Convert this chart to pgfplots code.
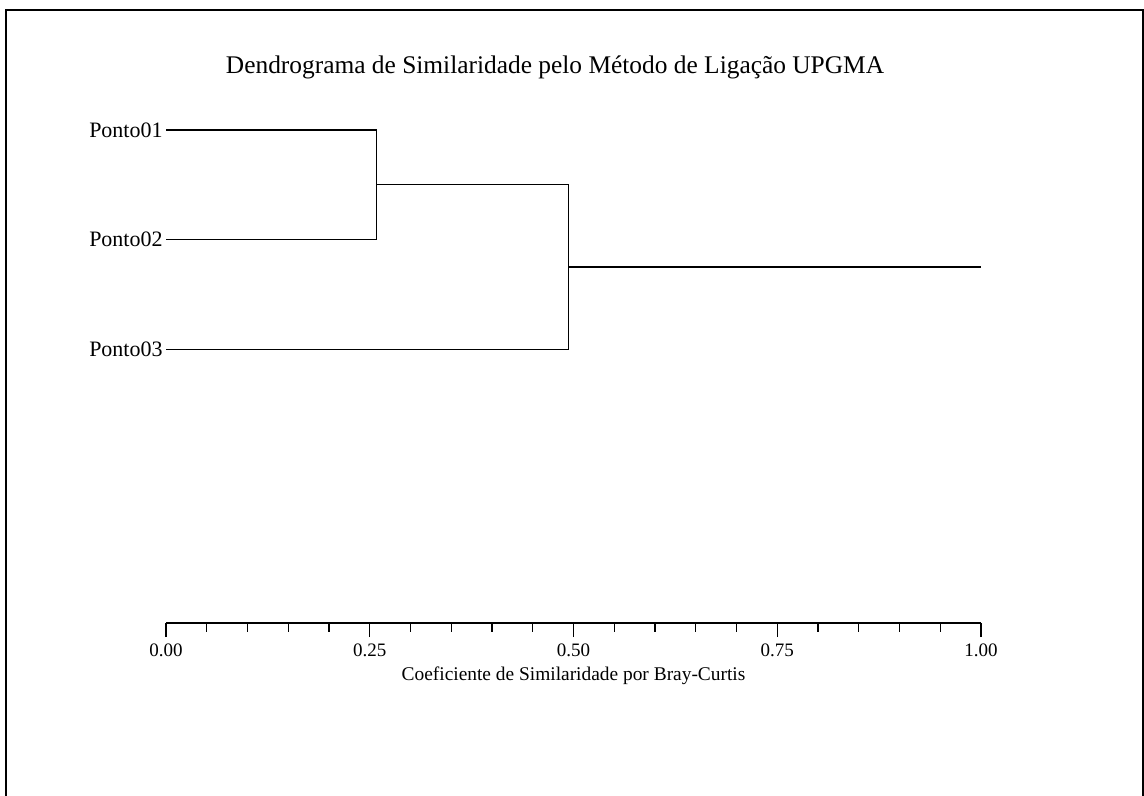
\documentclass[border=0pt]{standalone}
\usepackage{fontspec}
\setmainfont{Liberation Serif}
\usepackage{pgfplots}
\pgfplotsset{compat=1.18}
\begin{document}
\begin{tikzpicture}
\begin{axis}[
  at={(0pt,0pt)}, anchor=south west,
  scale only axis,
  width=407.5pt, height=246.5pt,
  xmin=0, xmax=1, ymin=0, ymax=4.5,
  clip=false,
  axis x line=bottom,
  axis y line=left,
  x axis line style={-, line width=0.6pt},
  y axis line style={draw=none},
  xtick={0,0.25,0.5,0.75,1},
  xticklabels={0.00,0.25,0.50,0.75,1.00},
  minor x tick num=4,
  tick align=outside,
  major tick length=7pt,
  minor tick length=4.5pt,
  x tick style={line width=0.6pt, black},
  ytick={2.5,3.5,4.5},
  yticklabels={Ponto03,Ponto02,Ponto01},
  y tick style={draw=none},
  yticklabel style={font=\fontsize{11}{13}\selectfont, inner sep=0pt, xshift=5.5pt},
  xticklabel style={font=\fontsize{9.5}{11}\selectfont},
  xlabel={Coeficiente de Similaridade por Bray-Curtis},
  xlabel style={font=\fontsize{9.7}{11}\selectfont, at={(axis description cs:0.5,-0.1075)}, anchor=center},
]
\addplot[black, line width=0.6pt, no markers] coordinates {(0,4.5) (0.258,4.5) (0.258,3.5) (0,3.5)};
\addplot[black, line width=0.6pt, no markers] coordinates {(0.258,4) (0.494,4) (0.494,2.5) (0,2.5)};
\addplot[black, line width=0.6pt, no markers] coordinates {(0.494,3.25) (1,3.25)};
\end{axis}
\node[font=\fontsize{12.7}{15}\selectfont] at (194.5pt,278pt) {Dendrograma de Similaridade pelo Método de Ligação UPGMA};
\draw[line width=0.8pt] (-80pt,-90pt) -- (-80pt,306.5pt) -- (488.5pt,306.5pt) -- (488.5pt,-90pt);
\pgfresetboundingbox
\useasboundingbox (-83pt,-86.5pt) rectangle (489pt,311.5pt);
\end{tikzpicture}
\end{document}
